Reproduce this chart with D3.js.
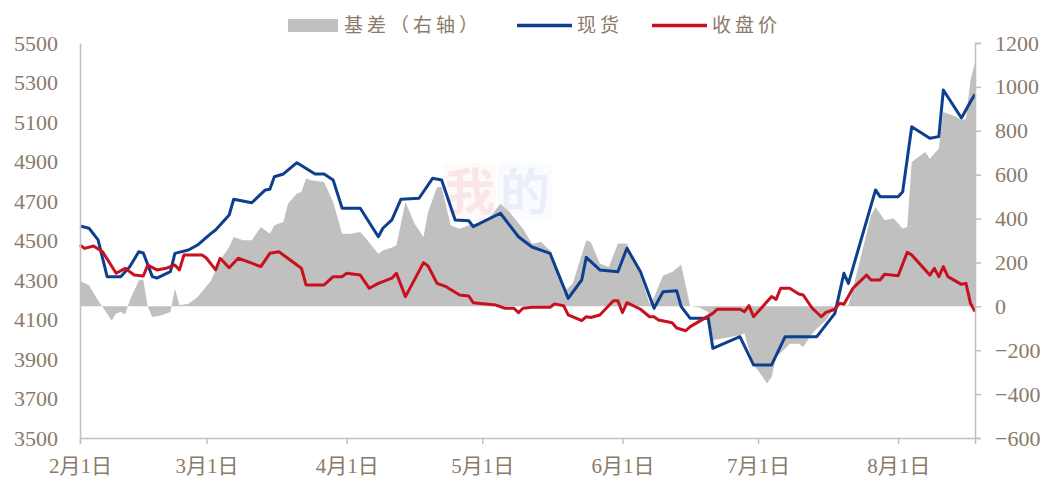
<!DOCTYPE html>
<html>
<head>
<meta charset="utf-8">
<script src="https://cdn.jsdelivr.net/npm/d3@7"></script>
<style>
  body { margin: 0; background: #fff; }
  svg { display: block; }
</style>
</head>
<body>
<div id="chart"></div>
<script>
// spot price (现货)
const spotDates = ["02-01","02-03","02-05","02-07","02-10","02-12","02-14","02-15","02-17","02-18","02-21","02-22","02-25","02-27",
  "03-02","03-03","03-06","03-07","03-11","03-14","03-15","03-16","03-18","03-21","03-25","03-27","03-29","03-31",
  "04-04","04-08","04-09","04-11","04-13","04-17","04-20","04-22","04-25","04-28","04-29",
  "05-05","05-09","05-12","05-16","05-20","05-23","05-24","05-27","05-31",
  "06-02","06-05","06-08","06-10","06-13","06-14","06-16","06-20","06-21","06-27","06-30",
  "07-04","07-07","07-14","07-18","07-20","07-21","07-27","07-28",
  "08-01","08-02","08-04","08-08","08-10","08-11","08-15","08-17","08-18"];
const spotValues = [4573,4562,4503,4317,4317,4367,4443,4437,4317,4310,4342,4435,4452,4477,
  4536,4553,4629,4709,4691,4756,4759,4823,4837,4894,4837,4837,4806,4663,
  4663,4519,4562,4604,4709,4714,4815,4806,4604,4600,4570,
  4638,4519,4467,4435,4207,4300,4415,4351,4342,
  4461,4342,4157,4241,4246,4165,4106,4106,3954,4013,3870,
  3870,4013,4013,4131,4334,4283,4756,4722,
  4722,4747,5076,5018,5026,5262,5120,5203,5240];

// futures close (收盘价)
const closeDates = ["02-01","02-02","02-04","02-06","02-09","02-11","02-13","02-15","02-16","02-18","02-20","02-22","02-23","02-24","02-28",
  "03-01","03-03","03-04","03-06","03-08","03-11","03-13","03-15","03-17","03-21","03-22","03-23","03-27","03-29","03-31",
  "04-01","04-04","04-06","04-08","04-11","04-12","04-14","04-18","04-19","04-21","04-23","04-26","04-28","04-29",
  "05-04","05-06","05-08","05-09","05-10","05-12","05-16","05-17","05-19","05-20","05-23","05-24","05-25","05-27","05-30","05-31",
  "06-01","06-02","06-05","06-07","06-08","06-09","06-12","06-13","06-15","06-16","06-21","06-22","06-27","06-28","06-29","06-30",
  "07-02","07-04","07-05","07-06","07-08","07-10","07-11","07-13","07-15","07-16","07-18","07-19","07-20","07-22","07-25","07-26","07-28","07-29",
  "08-01","08-03","08-04","08-08","08-09","08-10","08-11","08-12","08-15","08-16","08-17","08-18"];
const closeValues = [4477,4460,4472,4443,4334,4359,4325,4320,4376,4351,4359,4376,4351,4427,4427,
  4410,4351,4410,4362,4410,4385,4368,4435,4443,4376,4359,4275,4275,4317,4317,
  4334,4325,4258,4283,4309,4334,4216,4388,4371,4283,4266,4224,4219,4185,
  4173,4157,4157,4135,4157,4162,4162,4179,4170,4123,4094,4114,4110,4123,4195,4195,
  4135,4185,4152,4114,4114,4097,4084,4057,4043,4064,4131,4152,4152,4140,4170,4114,
  4165,4216,4202,4258,4258,4229,4224,4157,4114,4136,4152,4182,4177,4258,4325,4300,4300,4329,
  4322,4440,4427,4325,4359,4317,4368,4317,4278,4283,4182,4140];

// basis (基差, right axis)
const basisDates = ["02-01","02-03","02-05","02-06","02-08","02-09","02-10","02-11","02-12","02-14","02-15","02-16","02-17","02-19","02-21","02-22","02-23","02-25","02-27",
  "03-02","03-04","03-06","03-07","03-09","03-11","03-13","03-15","03-16","03-18","03-19","03-21","03-22","03-23","03-24","03-27","03-29","03-31",
  "04-02","04-04","04-05","04-08","04-09","04-11","04-12","04-14","04-16","04-18","04-19","04-21","04-22","04-24","04-26","04-28",
  "05-01","05-03","05-05","05-07","05-10","05-12","05-14","05-16","05-19","05-21","05-24","05-25","05-27","05-29","05-31",
  "06-02","06-05","06-07","06-08","06-10","06-12","06-14","06-16","06-18","06-20","06-21","06-27","06-28","06-30",
  "07-01","07-03","07-04","07-05","07-07","07-08","07-10","07-11","07-13","07-14","07-16","07-18","07-21","07-22","07-24","07-26","07-27","07-29","07-31",
  "08-01","08-02","08-03","08-04","08-06","08-07","08-08","08-10","08-11","08-14","08-15","08-16","08-17","08-18"];
const basisValues = [115,96,27,-3,-64,-33,-26,-36,27,118,122,-3,-49,-41,-26,81,5,12,42,
  118,210,270,316,301,301,361,331,369,384,468,514,521,582,575,567,475,331,
  331,339,316,240,255,268,278,475,377,316,430,544,544,369,354,369,
  384,415,468,430,354,285,293,255,65,103,301,293,195,179,286,
  286,141,12,42,141,156,190,0,-5,-26,-155,-132,-124,-269,
  -292,-352,-322,-231,-193,-170,-170,-185,-124,-102,-64,-3,5,81,248,415,453,392,400,
  377,354,361,658,688,703,673,719,886,863,848,855,1030,1110];

const leftTicks = [3500,3700,3900,4100,4300,4500,4700,4900,5100,5300,5500];
const rightTicks = [-600,-400,-200,0,200,400,600,800,1000,1200];
const legendNames = ["基差（右轴）", "现货", "收盘价"];

const parseDay = d3.timeParse("%Y-%m-%d");
const toDate = (s) => parseDay("2021-" + s);
const zip = (dates, vals) => dates.map((d, i) => ({ date: toDate(d), value: vals[i] }));

const spot = zip(spotDates, spotValues);
const close = zip(closeDates, closeValues);
const basis = zip(basisDates, basisValues);

const width = 1046, height = 479;
const margin = { top: 43, right: 71, bottom: 41, left: 80 };

const svg = d3.select("#chart").append("svg")
  .attr("width", width).attr("height", height);

const x = d3.scaleTime()
  .domain([toDate("02-01"), toDate("08-18")])
  .range([margin.left, width - margin.right]);
const yL = d3.scaleLinear().domain([3500, 5500]).range([height - margin.bottom, margin.top]);
const yR = d3.scaleLinear().domain([-600, 1200]).range([height - margin.bottom, margin.top]);

const labelColor = "#8a7a6a";
const axisColor = "#bfbfbf";
const numFont = "'Liberation Serif', 'Noto Sans CJK SC', serif";

// faint watermark behind the data
const wm = svg.append("g").style("font-family", "'Noto Sans CJK SC', sans-serif")
  .style("font-size", "50px").style("font-weight", "bold");
wm.append("rect").attr("x", 443).attr("y", 163).attr("width", 53).attr("height", 58)
  .attr("fill", "#e02020").attr("opacity", 0.025);
wm.append("rect").attr("x", 498).attr("y", 163).attr("width", 55).attr("height", 58)
  .attr("fill", "#3050c0").attr("opacity", 0.025);
wm.append("text").attr("x", 445).attr("y", 210).attr("fill", "#e04040").attr("opacity", 0.1).text("我");
wm.append("text").attr("x", 500).attr("y", 210).attr("fill", "#4060c0").attr("opacity", 0.08).text("的");

// basis area
const area = d3.area()
  .x((d) => x(d.date))
  .y0(yR(0))
  .y1((d) => yR(d.value));
svg.append("path").datum(basis)
  .attr("d", area)
  .attr("fill", "#c0c0c0");

// lines
const lineL = d3.line().x((d) => x(d.date)).y((d) => yL(d.value));
svg.append("path").datum(spot)
  .attr("d", lineL).attr("fill", "none")
  .attr("stroke", "#0e3f8e").attr("stroke-width", 3).attr("stroke-linejoin", "round");
svg.append("path").datum(close)
  .attr("d", lineL).attr("fill", "none")
  .attr("stroke", "#c8101e").attr("stroke-width", 3).attr("stroke-linejoin", "round");

// left axis
const gL = svg.append("g")
  .attr("transform", `translate(${margin.left},0)`)
  .call(d3.axisLeft(yL).tickValues(leftTicks).tickSize(0).tickPadding(22).tickFormat(d3.format("d")));
gL.select(".domain").attr("stroke", axisColor).attr("stroke-width", 1.5);
gL.selectAll("text").attr("fill", labelColor).style("font-family", numFont).style("font-size", "22px");

// right axis
const gR = svg.append("g")
  .attr("transform", `translate(${width - margin.right},0)`)
  .call(d3.axisRight(yR).tickValues(rightTicks).tickSize(6).tickPadding(14).tickFormat(d3.format("d")));
gR.select(".domain").attr("stroke", axisColor).attr("stroke-width", 1.5);
gR.selectAll("line").attr("stroke", axisColor).attr("stroke-width", 1.5);
gR.selectAll("text").attr("fill", labelColor).style("font-family", numFont).style("font-size", "22px");

// x axis
const gX = svg.append("g")
  .attr("transform", `translate(0,${height - margin.bottom})`)
  .call(d3.axisBottom(x).ticks(d3.timeMonth.every(1)).tickSize(6).tickPadding(14)
    .tickFormat((d) => `${d.getMonth() + 1}月1日`));
gX.select(".domain").attr("stroke", axisColor).attr("stroke-width", 1.5);
gX.selectAll("line").attr("stroke", axisColor).attr("stroke-width", 1.5);
gX.selectAll("text").attr("fill", labelColor).style("font-family", numFont).style("font-size", "21px");

// legend
const legend = svg.append("g").style("font-family", "'Noto Sans CJK SC', sans-serif")
  .style("font-size", "19px").attr("fill", labelColor);
legend.append("rect").attr("x", 288).attr("y", 19).attr("width", 50).attr("height", 13).attr("fill", "#c0c0c0");
legend.append("text").attr("x", 344).attr("y", 32).style("letter-spacing", "4px").text(legendNames[0]);
legend.append("line").attr("x1", 517).attr("x2", 572).attr("y1", 25.5).attr("y2", 25.5)
  .attr("stroke", "#0e3f8e").attr("stroke-width", 3.5);
legend.append("text").attr("x", 577).attr("y", 32).style("letter-spacing", "4px").text(legendNames[1]);
legend.append("line").attr("x1", 652).attr("x2", 707).attr("y1", 25.5).attr("y2", 25.5)
  .attr("stroke", "#c8101e").attr("stroke-width", 3.5);
legend.append("text").attr("x", 712).attr("y", 32).style("letter-spacing", "4px").text(legendNames[2]);
</script>
</body>
</html>
